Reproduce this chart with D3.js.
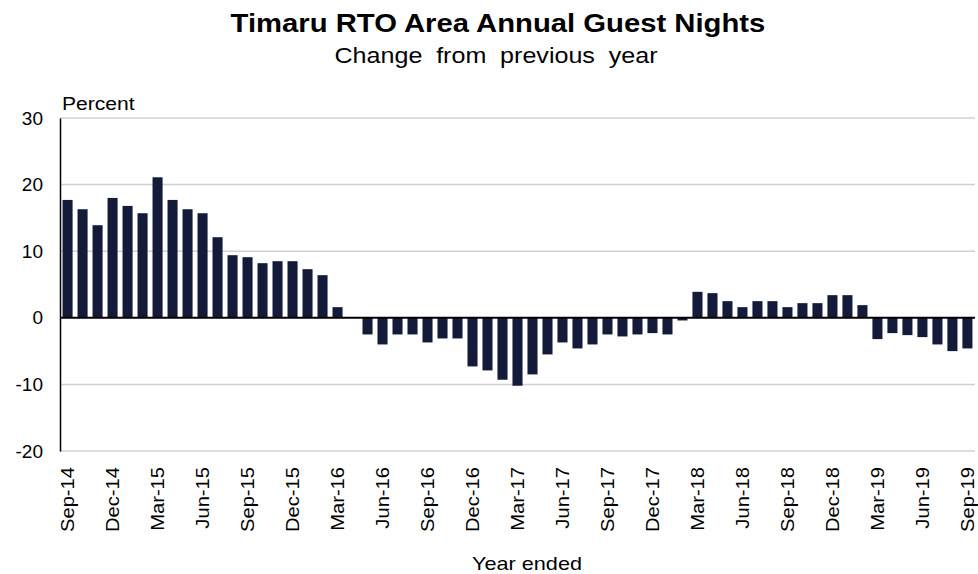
<!DOCTYPE html>
<html>
<head>
<meta charset="utf-8">
<script src="https://cdn.jsdelivr.net/npm/d3@7"></script>
<style>
  body { margin: 0; background: #fff; }
</style>
</head>
<body>
<div id="chart"></div>
<script>
const months = [
  'Sep-14', 'Oct-14', 'Nov-14', 'Dec-14', 'Jan-15', 'Feb-15', 'Mar-15', 'Apr-15', 'May-15', 'Jun-15',
  'Jul-15', 'Aug-15', 'Sep-15', 'Oct-15', 'Nov-15', 'Dec-15', 'Jan-16', 'Feb-16', 'Mar-16', 'Apr-16',
  'May-16', 'Jun-16', 'Jul-16', 'Aug-16', 'Sep-16', 'Oct-16', 'Nov-16', 'Dec-16', 'Jan-17', 'Feb-17',
  'Mar-17', 'Apr-17', 'May-17', 'Jun-17', 'Jul-17', 'Aug-17', 'Sep-17', 'Oct-17', 'Nov-17', 'Dec-17',
  'Jan-18', 'Feb-18', 'Mar-18', 'Apr-18', 'May-18', 'Jun-18', 'Jul-18', 'Aug-18', 'Sep-18', 'Oct-18',
  'Nov-18', 'Dec-18', 'Jan-19', 'Feb-19', 'Mar-19', 'Apr-19', 'May-19', 'Jun-19', 'Jul-19', 'Aug-19',
  'Sep-19'
];

const changePct = [
  17.7, 16.3, 13.9, 18.0, 16.8, 15.7, 21.1, 17.7, 16.3, 15.7,
  12.1, 9.4, 9.1, 8.2, 8.5, 8.5, 7.3, 6.4, 1.6, 0.0,
  -2.5, -4.0, -2.5, -2.5, -3.7, -3.1, -3.1, -7.3, -7.9, -9.3,
  -10.2, -8.5, -5.5, -3.7, -4.6, -4.0, -2.5, -2.8, -2.5, -2.3,
  -2.5, -0.4, 3.9, 3.7, 2.5, 1.6, 2.5, 2.5, 1.6, 2.2,
  2.2, 3.4, 3.4, 1.9, -3.2, -2.3, -2.6, -2.9, -4.0, -5.0,
  -4.6
];

const xLabels = ['Sep-14', 'Dec-14', 'Mar-15', 'Jun-15', 'Sep-15', 'Dec-15', 'Mar-16', 'Jun-16',
  'Sep-16', 'Dec-16', 'Mar-17', 'Jun-17', 'Sep-17', 'Dec-17', 'Mar-18', 'Jun-18', 'Sep-18',
  'Dec-18', 'Mar-19', 'Jun-19', 'Sep-19'];
const yTicks = [-20, -10, 0, 10, 20, 30];

const width = 978;
const height = 574;
const plotLeft = 60;
const plotRight = 975;
const plotTop = 118;
const plotBottom = 451;
const font = 'Liberation Sans, Arial, sans-serif';

// The original text is drawn a little wider than Arial, so stretch it
function stretch(sel, factor) {
  sel.each(function() {
    let w = this.getComputedTextLength();
    d3.select(this)
      .attr('textLength', w * factor)
      .attr('lengthAdjust', 'spacingAndGlyphs');
  });
}

let svg = d3.select('#chart').append('svg')
  .attr('width', width)
  .attr('height', height);

let x = d3.scaleBand()
  .domain(months)
  .range([plotLeft, plotRight])
  .paddingInner(0.33)
  .paddingOuter(0.17);

let y = d3.scaleLinear()
  .domain([-20, 30])
  .range([plotBottom, plotTop]);

// Titles
svg.append('text')
  .text('Timaru RTO Area Annual Guest Nights')
  .attr('x', 498)
  .attr('y', 32)
  .attr('text-anchor', 'middle')
  .attr('font-family', font)
  .attr('font-weight', 'bold')
  .attr('font-size', 25)
  .call(stretch, 1.17);

svg.append('text')
  .text('Change from previous year')
  .attr('x', 496)
  .attr('y', 63)
  .attr('text-anchor', 'middle')
  .attr('font-family', font)
  .attr('word-spacing', 6)
  .attr('font-size', 22)
  .call(stretch, 1.14);

// Gridlines
svg.append('g')
  .selectAll('line')
  .data(yTicks.filter(d => d !== 0))
  .join('line')
  .attr('x1', plotLeft)
  .attr('x2', plotRight)
  .attr('y1', d => y(d))
  .attr('y2', d => y(d))
  .attr('stroke', '#d0d0d0')
  .attr('stroke-width', 1.5);

// Bars
svg.append('g')
  .selectAll('rect')
  .data(months)
  .join('rect')
  .attr('x', d => x(d))
  .attr('width', x.bandwidth())
  .attr('y', (d, i) => y(Math.max(0, changePct[i])))
  .attr('height', (d, i) => Math.abs(y(changePct[i]) - y(0)))
  .attr('fill', '#141a3a');

// Zero line
svg.append('line')
  .attr('x1', plotLeft)
  .attr('x2', plotRight)
  .attr('y1', y(0))
  .attr('y2', y(0))
  .attr('stroke', 'black')
  .attr('stroke-width', 2);

// Y axis
let yAxis = svg.append('g')
  .attr('transform', 'translate(' + plotLeft + ',0)')
  .call(d3.axisLeft(y).tickValues(yTicks).tickFormat(d => String(d)).tickSize(0).tickPadding(17));
yAxis.select('.domain')
  .attr('stroke', 'black')
  .attr('stroke-width', 1.5);
yAxis.selectAll('text')
  .attr('font-family', font)
  .attr('font-size', 19)
  .attr('fill', 'black');

svg.append('text')
  .text('Percent')
  .attr('x', 62)
  .attr('y', 110)
  .attr('font-family', font)
  .attr('font-size', 18)
  .call(stretch, 1.17);

// X labels
let xAxis = svg.append('g')
  .attr('transform', 'translate(0,' + (plotBottom + 16) + ')')
  .call(d3.axisBottom(x).tickValues(xLabels).tickSize(0).tickPadding(0));
xAxis.select('.domain').remove();
xAxis.selectAll('text')
  .attr('font-family', font)
  .attr('font-size', 18)
  .attr('fill', 'black')
  .attr('text-anchor', 'end')
  .attr('dy', '0.35em')
  .attr('y', 0)
  .attr('transform', 'rotate(-90)')
  .call(stretch, 1.12);

svg.append('text')
  .text('Year ended')
  .attr('x', 527)
  .attr('y', 570)
  .attr('text-anchor', 'middle')
  .attr('font-family', font)
  .attr('font-size', 19)
  .call(stretch, 1.14);
</script>
</body>
</html>
